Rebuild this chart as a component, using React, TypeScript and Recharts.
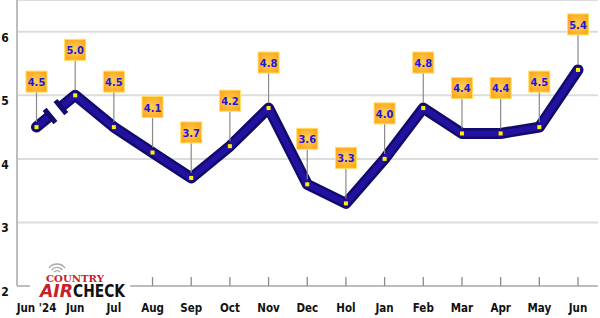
import { LineChart, Line, XAxis, YAxis, CartesianGrid, LabelList } from "recharts";

const months = ["Jun '24", "Jun", "Jul", "Aug", "Sep", "Oct", "Nov", "Dec", "Hol", "Jan", "Feb", "Mar", "Apr", "May", "Jun"];
const ratings = [4.5, 5.0, 4.5, 4.1, 3.7, 4.2, 4.8, 3.6, 3.3, 4.0, 4.8, 4.4, 4.4, 4.5, 5.4];
const yTicks = [2, 3, 4, 5, 6];

const data = months.map((m, i) => ({ idx: i, month: m, v: ratings[i] }));

const FONT = "'DejaVu Sans Condensed', 'Liberation Sans Narrow', 'DejaVu Sans', sans-serif";
const NAVY = "#120a6c";

const XTick = (props: any) => {
  const { x, y, payload } = props;
  return (
    <g>
      <line x1={x} x2={x} y1={y - 9} y2={y} stroke="#8c8c8c" strokeWidth={1.3} />
      <text x={x} y={y + 26} textAnchor="middle" fontFamily={FONT} fontWeight="bold" fontSize={11.5} fill="#111">
        {months[payload.value]}
      </text>
    </g>
  );
};

const YTick = (props: any) => {
  const { x, y, payload } = props;
  return (
    <text x={x - 12} y={y + 10} textAnchor="middle" fontFamily={FONT} fontWeight="bold" fontSize={12} fill="#111">
      {payload.value}
    </text>
  );
};

const Callout = (props: any) => {
  const { x, y, value } = props;
  const top = y - 56;
  return (
    <g>
      <line x1={x} x2={x} y1={top + 21} y2={y - 5} stroke="#8a8a8a" strokeWidth={1.2} />
      <rect x={x - 10.5} y={top} width={21} height={21} fill="url(#boxGrad)" stroke="#ffe15a" strokeWidth={1} />
      <text x={x} y={top + 15} textAnchor="middle" fontFamily={FONT} fontWeight="bold" fontSize={11} fill="#1717e0">
        {Number(value).toFixed(1)}
      </text>
    </g>
  );
};

// yellow marker square; the first point also carries the axis-break symbol
const Dot = (props: any) => {
  const { cx, cy, index, points } = props;
  const sq = <rect x={cx - 2} y={cy - 2} width={4} height={4} fill="#fff200" />;
  if (index !== 0 || !points || points.length < 2) return <g key={`d${index}`}>{sq}</g>;
  const a = points[0];
  const b = points[1];
  const dx = b.x - a.x;
  const dy = b.y - a.y;
  const len = Math.hypot(dx, dy);
  const ang = (Math.atan2(dy, dx) * 180) / Math.PI;
  const at = (t: number) => [a.x + dx * t, a.y + dy * t];
  const t1 = 0.35;
  const t2 = 0.63;
  const [gx, gy] = at((t1 + t2) / 2);
  const [c1x, c1y] = at(t1);
  const [c2x, c2y] = at(t2);
  return (
    <g key="d0">
      <rect x={-(len * (t2 - t1)) / 2} y={-9} width={len * (t2 - t1)} height={18} fill="#fff"
        transform={`translate(${gx},${gy}) rotate(${ang})`} />
      <rect x={-2.5} y={-8.5} width={5} height={17} fill={NAVY} transform={`translate(${c1x},${c1y}) rotate(${ang})`} />
      <rect x={-2.5} y={-8.5} width={5} height={17} fill={NAVY} transform={`translate(${c2x},${c2y}) rotate(${ang})`} />
      {sq}
    </g>
  );
};

const Logo = () => (
  <div style={{ position: "absolute", left: 30, top: 262, width: 100, height: 37, background: "#fff" }}>
    <svg width={100} height={40} style={{ overflow: "visible" }}>
      <g fill="none" stroke="#a8a8a8" strokeWidth={1.3}>
        <path d="M 24 10 A 4 4 0 0 1 30 10" />
        <path d="M 21.5 8 A 7 7 0 0 1 32.5 8" />
        <path d="M 19 6 A 10 10 0 0 1 35 6" />
      </g>
      <text x={16} y={19.5} textLength={58} lengthAdjust="spacingAndGlyphs" fontFamily="'DejaVu Serif', 'Liberation Serif', serif"
        fontWeight="bold" fontSize={9} fill="#c8202a">COUNTRY</text>
      <text x={10} y={35} textLength={33} lengthAdjust="spacingAndGlyphs" fontFamily="'DejaVu Sans', sans-serif"
        fontWeight="bold" fontStyle="italic" fontSize={17.5} fill="#c8202a">AIR</text>
      <text x={43} y={35} textLength={52} lengthAdjust="spacingAndGlyphs" fontFamily="'DejaVu Sans', sans-serif"
        fontWeight="bold" fontSize={17.5} fill="#111">CHECK</text>
    </svg>
  </div>
);

export default function App() {
  return (
    <div style={{ position: "absolute", left: 0, top: 0, width: 600, height: 318, background: "#fff" }}>
      <svg width={0} height={0} style={{ position: "absolute" }}>
        <defs>
          <radialGradient id="boxGrad" cx="50%" cy="50%" r="70%">
            <stop offset="0%" stopColor="#ffd257" />
            <stop offset="100%" stopColor="#ff9d12" />
          </radialGradient>
        </defs>
      </svg>
      <LineChart width={600} height={318} data={data} margin={{ top: 0, right: 2, bottom: 0, left: 0 }}>
        <CartesianGrid vertical={false} stroke="#dcdcdc" strokeWidth={2} />
        <XAxis
          dataKey="idx"
          type="category"
          height={32}
          padding={{ left: 19.5, right: 20 }}
          tickSize={0}
          tickMargin={0}
          tickLine={false}
          axisLine={{ stroke: "#bdbdbd", strokeWidth: 2 }}
          tick={<XTick />}
          interval={0}
        />
        <YAxis
          width={17}
          domain={[2, 6.5]}
          ticks={yTicks}
          tickSize={0}
          tickMargin={0}
          tickLine={false}
          axisLine={{ stroke: "#bdbdbd", strokeWidth: 2 }}
          tick={<YTick />}
        />
        <Line dataKey="v" stroke={NAVY} strokeWidth={11} strokeLinejoin="round" strokeLinecap="round"
          dot={false} activeDot={false} isAnimationActive={false} />
        <Line dataKey="v" stroke="#2312a0" strokeWidth={6} strokeLinejoin="round" strokeLinecap="round"
          dot={<Dot />} activeDot={false} isAnimationActive={false}>
          <LabelList dataKey="v" content={<Callout />} />
        </Line>
      </LineChart>
      <Logo />
    </div>
  );
}
